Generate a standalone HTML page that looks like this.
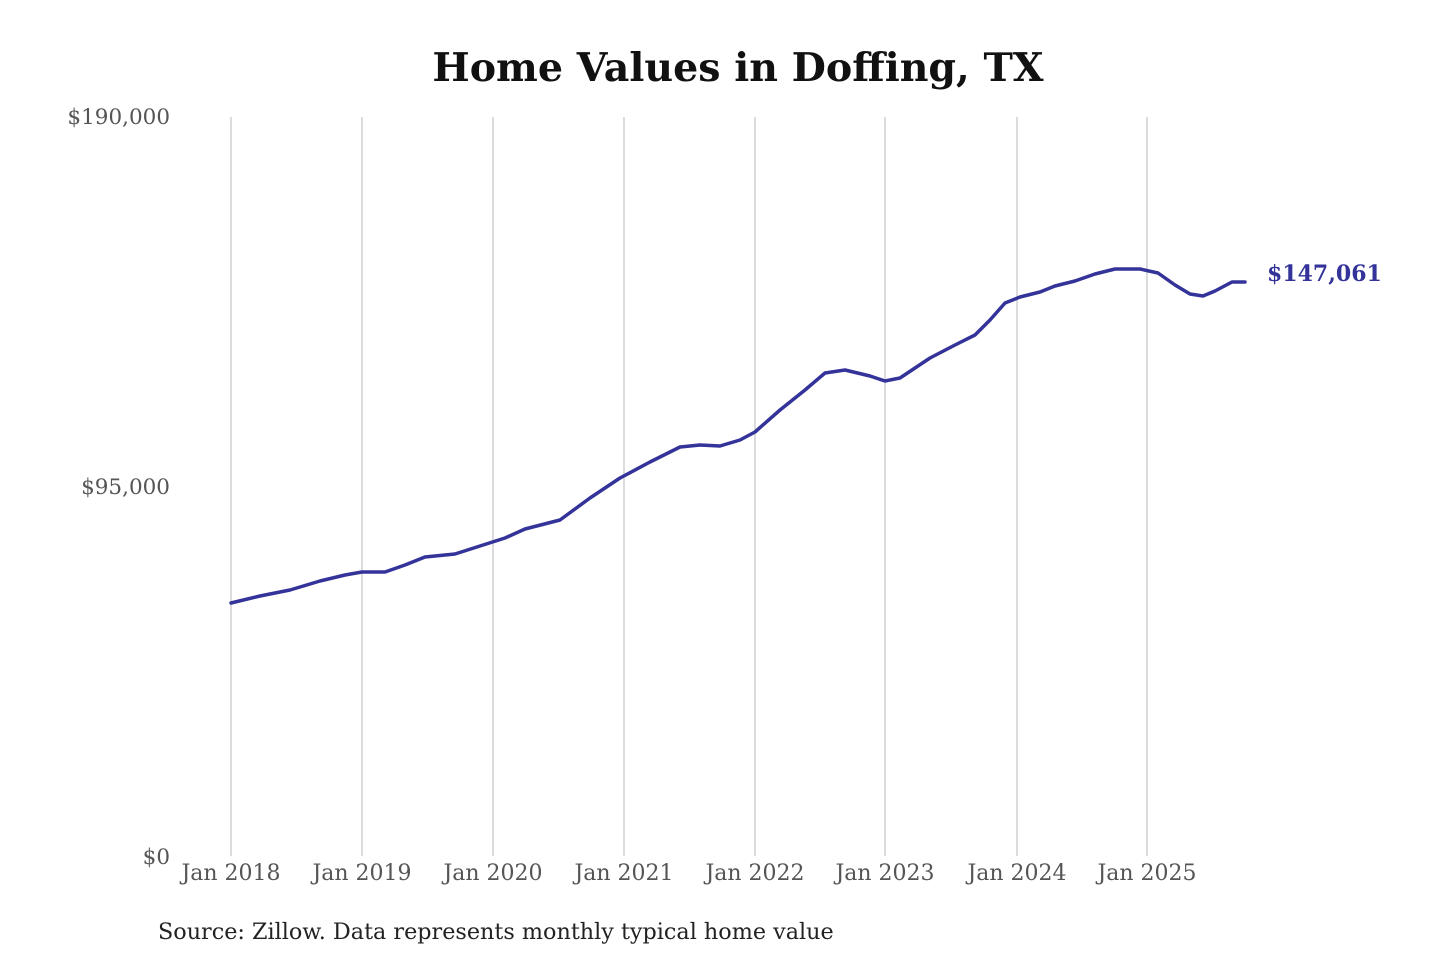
<!DOCTYPE html>
<html><head><meta charset="utf-8"><style>
html,body{margin:0;padding:0;background:#fff;width:1440px;height:960px;overflow:hidden}
</style></head><body>
<svg width="1440" height="960" xmlns="http://www.w3.org/2000/svg" font-family="'DejaVu Serif','Liberation Serif',serif">
<text x="738" y="81" text-anchor="middle" font-size="39.5" font-weight="bold" fill="#111">Home Values in Doffing, TX</text>
<g stroke="#c8c8c8" stroke-width="1.3">
<line x1="231" y1="117" x2="231" y2="856"/><line x1="362" y1="117" x2="362" y2="856"/>
<line x1="493" y1="117" x2="493" y2="856"/><line x1="624" y1="117" x2="624" y2="856"/>
<line x1="755" y1="117" x2="755" y2="856"/><line x1="885" y1="117" x2="885" y2="856"/>
<line x1="1017" y1="117" x2="1017" y2="856"/><line x1="1147" y1="117" x2="1147" y2="856"/>
</g>
<g font-size="21.5" fill="#555" text-anchor="end">
<text x="170" y="124">$190,000</text>
<text x="170" y="494">$95,000</text>
<text x="170" y="864">$0</text>
</g>
<g font-size="22" fill="#555" text-anchor="middle">
<text x="231" y="880">Jan 2018</text><text x="362" y="880">Jan 2019</text>
<text x="493" y="880">Jan 2020</text><text x="624" y="880">Jan 2021</text>
<text x="755" y="880">Jan 2022</text><text x="885" y="880">Jan 2023</text>
<text x="1017" y="880">Jan 2024</text><text x="1147" y="880">Jan 2025</text>
</g>
<polyline fill="none" stroke="#333399" stroke-width="3.5" stroke-linejoin="round" stroke-linecap="round" points="231,603 260,596 290,590 320,581 345,575 362,572 385,572 405,565 425,557 455,554 480,546 505,538 525,529 560,520 590,498 620,478 650,462 680,447 700,445 720,446 740,440 755,432 780,410 805,390 825,373 845,370 870,376 885,381 900,378 930,358 955,345 975,335 990,320 1005,303 1020,297 1040,292 1055,286 1075,281 1095,274 1115,269 1140,269 1158,273 1175,285 1190,294 1203,296 1215,291 1232,282 1245,282"/>
<text x="1267" y="281" font-size="22" font-weight="bold" fill="#333399">$147,061</text>
<text x="158" y="939" font-size="22.3" fill="#222">Source: Zillow. Data represents monthly typical home value</text>
</svg>
</body></html>
